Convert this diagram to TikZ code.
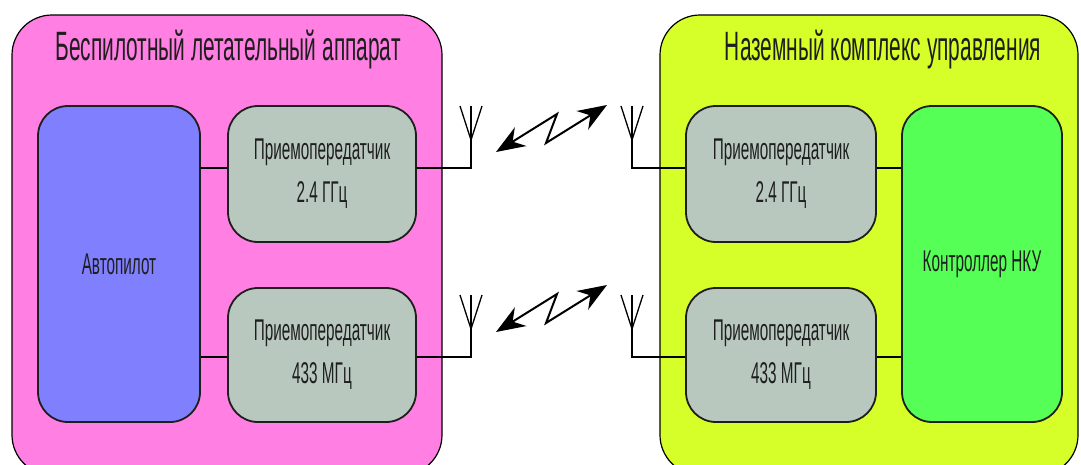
\documentclass[tikz,border=0pt]{standalone}
\usepackage{fontspec}
\setmainfont{Liberation Sans}[FakeStretch=0.51]
\usetikzlibrary{arrows.meta}
\definecolor{uavpink}{RGB}{255,128,226}
\definecolor{gcsyellow}{RGB}{214,255,42}
\definecolor{apblue}{RGB}{128,128,255}
\definecolor{txgray}{RGB}{184,200,190}
\definecolor{ctrlgreen}{RGB}{85,255,85}
\definecolor{inkdark}{RGB}{30,30,30}
\tikzset{
  outerbox/.style={draw=black, line width=1.2pt, rounded corners=40pt, inner sep=0pt},
  unitbox/.style={draw=inkdark, line width=1.8pt, rounded corners=30pt, inner sep=0pt,
    align=center, text=inkdark, font=\fontsize{30}{43}\selectfont},
  titletext/.style={text=inkdark, font=\fontsize{41}{46}\selectfont, anchor=base, inner sep=0pt},
  wire/.style={draw=black, line width=1.5pt},
  aerial/.style={draw=black, line width=1.3pt},
  radiolink/.style={draw=black, line width=2pt, line join=miter,
    {Stealth[length=29pt,width=22pt]}-{Stealth[length=29pt,width=22pt]}},
}
\begin{document}
\begin{tikzpicture}[x=1pt,y=-1pt]
\useasboundingbox (0,0) rectangle (1081,464);
\clip (0,0) rectangle (1081,464);

% enclosing blocks
\node[outerbox, fill=uavpink, minimum width=430pt, minimum height=460pt] (uav) at (227,245) {};
\node[outerbox, fill=gcsyellow, minimum width=418pt, minimum height=460pt] (gcs) at (869,245) {};
\node[titletext] (uavtitle) at (228,60) {Беспилотный летательный аппарат};
\node[titletext] (gcstitle) at (883,60) {Наземный комплекс управления};

% on-board units
\node[unitbox, fill=apblue, minimum width=162pt, minimum height=316pt] (ap) at (119,264) {Автопилот};
\node[unitbox, fill=txgray, minimum width=188pt, minimum height=136pt] (txa) at (322,174) {Приемопередатчик\\2.4 ГГц};
\node[unitbox, fill=txgray, minimum width=188pt, minimum height=134pt] (txb) at (322,355) {Приемопередатчик\\433 МГц};

% ground units
\node[unitbox, fill=txgray, minimum width=190pt, minimum height=136pt] (rxa) at (781,174) {Приемопередатчик\\2.4 ГГц};
\node[unitbox, fill=txgray, minimum width=190pt, minimum height=134pt] (rxb) at (781,355) {Приемопередатчик\\433 МГц};
\node[unitbox, fill=ctrlgreen, minimum width=160pt, minimum height=316pt] (ctrl) at (982,264) {Контроллер НКУ};

% antenna feed points
\coordinate (anta) at (471,168);
\coordinate (antb) at (471,357);
\coordinate (antc) at (632,168);
\coordinate (antd) at (632,357);

% wiring
\draw[wire] (ap.east |- anta) -- (txa.west |- anta);
\draw[wire] (ap.east |- antb) -- (txb.west |- antb);
\draw[wire] (txa.east |- anta) -- (anta) -- ++(0,-28);
\draw[wire] (txb.east |- antb) -- (antb) -- ++(0,-28);
\draw[wire] (rxa.west |- antc) -- (antc) -- ++(0,-28);
\draw[wire] (rxb.west |- antd) -- (antd) -- ++(0,-28);
\draw[wire] (rxa.east |- antc) -- (ctrl.west |- antc);
\draw[wire] (rxb.east |- antd) -- (ctrl.west |- antd);

% antenna heads
\foreach \p in {anta,antb,antc,antd}{
  \draw[aerial] ([xshift=-11pt,yshift=62pt]\p) -- ([yshift=28pt]\p) -- ([xshift=11pt,yshift=62pt]\p);
  \draw[aerial] ([yshift=28pt]\p) -- ([yshift=62pt]\p);
}

% radio links
\coordinate (la1) at (496,152);
\coordinate (la2) at (607,105);
\coordinate (lb1) at (496,332);
\coordinate (lb2) at (607,285);
\draw[radiolink] (la1) -- (557,114) -- (546,143) -- (la2);
\draw[radiolink] (lb1) -- (557,294) -- (546,323) -- (lb2);
\end{tikzpicture}
\end{document}
